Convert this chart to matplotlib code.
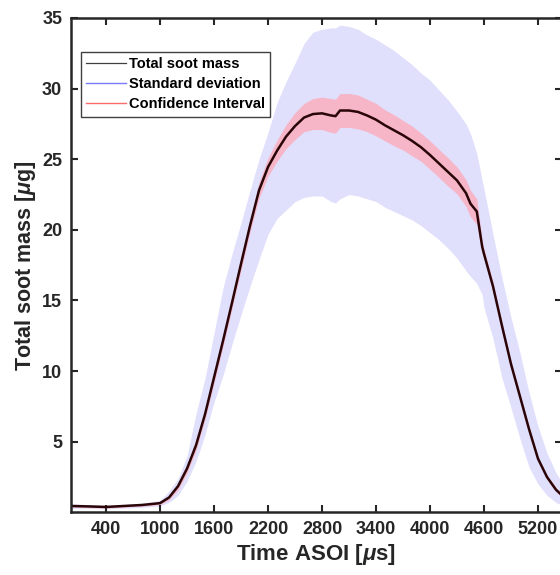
import numpy as np
import matplotlib
matplotlib.use('Agg')
import matplotlib.pyplot as plt
from matplotlib.lines import Line2D

plt.rcParams['font.family'] = ['Liberation Sans', 'DejaVu Sans']
plt.rcParams['font.weight'] = 'bold'
plt.rcParams['mathtext.fontset'] = 'custom'
plt.rcParams['mathtext.it'] = 'Liberation Sans:italic:bold'
plt.rcParams['mathtext.rm'] = 'Liberation Sans:bold'

# time after start of injection [us]
time_us = [5, 200, 400, 600, 800, 1000, 1100, 1200, 1300, 1400, 1500, 1600, 1700,
           1800, 1900, 2000, 2100, 2200, 2300, 2400, 2500, 2600, 2700, 2800, 2900,
           2950, 3000, 3100, 3200, 3300, 3400, 3500, 3600, 3700, 3800, 3900, 4000,
           4100, 4200, 4300, 4400, 4450, 4520, 4580, 4600, 4700, 4800, 4900, 5000,
           5100, 5200, 5300, 5400, 5467]

# mean total soot mass [ug]
soot_mean = [0.45, 0.42, 0.38, 0.45, 0.52, 0.65, 1.05, 1.85, 3.1, 4.75, 6.95, 9.55, 12.15,
             14.85, 17.6, 20.3, 22.8, 24.45, 25.6, 26.6, 27.35, 27.95, 28.2, 28.25, 28.1,
             28.05, 28.45, 28.45, 28.35, 28.1, 27.8, 27.4, 27.05, 26.7, 26.3, 25.85, 25.3,
             24.7, 24.1, 23.5, 22.6, 21.85, 21.3, 18.8, 18.3, 16.0, 13.2, 10.5, 8.2,
             5.9, 3.8, 2.5, 1.6, 1.2]

# standard deviation band, upper and lower edge
std_upper = [0.6, 0.55, 0.5, 0.55, 0.65, 0.85, 1.5, 2.4, 4.0, 7.0, 9.5, 12.7, 15.9,
             18.3, 20.5, 22.8, 25.0, 26.9, 29.0, 30.5, 31.8, 33.2, 34.0, 34.2, 34.3,
             34.3, 34.5, 34.4, 34.2, 33.8, 33.5, 33.1, 32.7, 32.2, 31.7, 31.1, 30.6,
             29.9, 29.2, 28.4, 27.5, 26.8, 25.4, 23.5, 22.9, 19.7, 16.6, 13.8, 11.3,
             8.5, 6.1, 4.2, 2.8, 2.1]
std_lower = [0.3, 0.28, 0.25, 0.3, 0.35, 0.45, 0.7, 1.2, 2.2, 3.6, 5.5, 7.8, 9.7,
             11.9, 14.0, 16.0, 17.9, 19.7, 20.8, 21.4, 22.0, 22.3, 22.4, 22.4, 22.0,
             21.9, 22.2, 22.5, 22.4, 22.2, 22.0, 21.6, 21.3, 21.0, 20.7, 20.3, 19.8,
             19.3, 18.7, 18.0, 17.1, 16.7, 16.2, 15.4, 14.5, 12.3, 9.5, 7.4, 5.2,
             3.2, 2.0, 1.2, 0.7, 0.5]

# confidence interval half width
ci_half = [0.08, 0.08, 0.08, 0.08, 0.08, 0.1, 0.15, 0.25, 0.3, 0.35, 0.35, 0.4, 0.4,
           0.4, 0.45, 0.45, 0.55, 0.65, 0.75, 0.85, 0.95, 1.0, 1.1, 1.15, 1.2,
           1.2, 1.2, 1.2, 1.2, 1.15, 1.15, 1.1, 1.1, 1.05, 1.05, 1.0, 1.0,
           1.0, 1.0, 0.95, 0.95, 0.95, 0.9, 0.45, 0.35, 0.3, 0.25, 0.22, 0.2,
           0.18, 0.15, 0.15, 0.15, 0.15]

x_ticks = [400, 1000, 1600, 2200, 2800, 3400, 4000, 4600, 5200]
y_ticks = [5, 10, 15, 20, 25, 30, 35]

t = np.array(time_us)
m = np.array(soot_mean)
ci = np.array(ci_half)

fig = plt.figure(figsize=(5.6, 5.75), dpi=100)
ax = fig.add_axes([0.1259, 0.109, 0.8777, 0.8597])

ax.fill_between(t, std_lower, std_upper, color='#e0e0fc', linewidth=0)
ax.fill_between(t, m - ci, m + ci, color='#f6b6c8', linewidth=0)
ax.plot(t, m, color='#2a0508', linewidth=1.8)

ax.set_xlim(5, 5467)
ax.set_ylim(0, 35)
ax.set_xticks(x_ticks)
ax.set_yticks(y_ticks)
ax.tick_params(direction='in', length=5, width=1.5, top=True, right=True,
               labelsize=13, colors='#262626', pad=6)
for s in ax.spines.values():
    s.set_linewidth(1.8)
    s.set_color('#262626')

ax.set_xlabel(r'Time ASOI [$\mu$s]', fontsize=16, fontweight='bold', color='#262626', labelpad=3)
ax.set_ylabel(r'Total soot mass [$\mu$g]', fontsize=15.5, fontweight='bold', color='#262626', labelpad=3)

handles = [Line2D([], [], color='#404040', linewidth=0.9),
           Line2D([], [], color='#7a7aff', linewidth=1.0),
           Line2D([], [], color='#ff6a6a', linewidth=1.0)]
leg = ax.legend(handles, ['Total soot mass', 'Standard deviation', 'Confidence Interval'],
                loc='upper left', bbox_to_anchor=(0.021, 0.931), borderaxespad=0,
                fontsize=10.5, handlelength=2.75, handletextpad=0.2, labelspacing=0.42,
                borderpad=0.35, fancybox=False, framealpha=1)
leg.get_frame().set_edgecolor('#404040')
leg.get_frame().set_linewidth(1.0)

fig.savefig('out.png', dpi=100)
